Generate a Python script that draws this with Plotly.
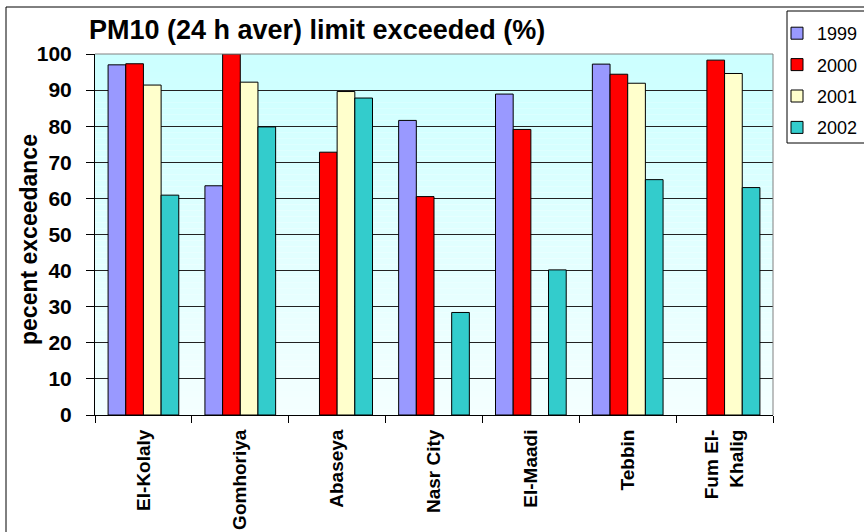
import plotly.graph_objects as go

# Monitoring stations and yearly share of days above the PM10 24 h limit
stations = ["El-Kolaly", "Gomhoriya", "Abaseya", "Nasr City", "El-Maadi", "Tebbin", "Fum El-<br>Khalig"]
years = ["1999", "2000", "2001", "2002"]
pct_1999 = [97.0, 63.5, None, 81.6, 88.9, 97.2, None]
pct_2000 = [97.3, 100.0, 72.8, 60.5, 79.1, 94.4, 98.3]
pct_2001 = [91.4, 92.2, 89.6, None, None, 91.9, 94.6]
pct_2002 = [60.9, 79.8, 87.8, 28.4, 40.2, 65.2, 63.0]
y_ticks = [0, 10, 20, 30, 40, 50, 60, 70, 80, 90, 100]

series = [pct_1999, pct_2000, pct_2001, pct_2002]
colors = ["#9999FF", "#FF0000", "#FFFFCC", "#33CCCC"]
FONT = "Arial, 'Liberation Sans', sans-serif"

W, H = 864, 532
L, R, T, B = 95, 91, 54, 117
pw, ph = W - L - R, H - T - B


def px_x(x):
    return (x - L) / pw


def px_y(y):
    return (H - B - y) / ph


fig = go.Figure()
for name, vals, col in zip(years, series, colors):
    fig.add_trace(go.Bar(
        x=stations, y=vals, name=name, legendgroup=name,
        marker=dict(color=col, line=dict(color="black", width=1)),
    ))

shapes = []
# vertical cyan-to-white fill of the plotting area
n = 60
for i in range(n):
    t = i / (n - 1)
    r = int(round(204 + (244 - 204) * t))
    shapes.append(dict(
        type="rect", xref="paper", yref="paper", layer="below",
        x0=0, x1=1, y0=1 - (i + 1) / n, y1=1 - i / n,
        fillcolor=f"rgb({r},255,255)", line=dict(width=0),
    ))
# grey frame on top and right of the plotting area
shapes.append(dict(type="line", xref="paper", yref="paper", x0=0, x1=1, y0=1, y1=1,
                   line=dict(color="#808080", width=1), layer="above"))
shapes.append(dict(type="line", xref="paper", yref="paper", x0=1, x1=1, y0=0, y1=1,
                   line=dict(color="#808080", width=1), layer="above"))
# outer chart border
shapes.append(dict(type="rect", xref="paper", yref="paper",
                   x0=px_x(6), x1=px_x(875), y0=px_y(545), y1=px_y(7),
                   line=dict(color="black", width=1), fillcolor="rgba(0,0,0,0)"))
# legend frame
shapes.append(dict(type="rect", xref="paper", yref="paper",
                   x0=px_x(787), x1=px_x(880), y0=px_y(143), y1=px_y(11),
                   line=dict(color="black", width=1), fillcolor="rgba(0,0,0,0)"))

fig.update_layout(
    width=W, height=H,
    margin=dict(l=L, r=R, t=T, b=B, autoexpand=False),
    paper_bgcolor="white", plot_bgcolor="rgba(0,0,0,0)",
    barmode="group", bargap=0.27, bargroupgap=0,
    font=dict(family=FONT, color="black"),
    title=dict(
        text="<b>PM10 (24 h aver) limit exceeded (%)</b>",
        font=dict(size=27, family=FONT, color="black"),
        x=89 / W, xanchor="left", xref="container",
        y=1 - 30 / H, yanchor="middle", yref="container",
    ),
    legend=dict(
        x=px_x(777), y=px_y(15), xanchor="left", yanchor="top",
        xref="paper", yref="paper",
        font=dict(size=18, family=FONT, color="black"),
        bgcolor="rgba(0,0,0,0)", borderwidth=0,
        traceorder="grouped", tracegroupgap=5,
    ),
    annotations=[dict(
        text="<b>pecent exceedance</b>", textangle=-90,
        xref="paper", yref="paper", x=px_x(29), y=px_y(240),
        xanchor="center", yanchor="middle", showarrow=False,
        font=dict(size=23, family=FONT, color="black"),
    )],
    shapes=shapes,
    showlegend=True,
)

fig.update_xaxes(
    type="category", showline=True, linecolor="black", linewidth=1,
    ticks="outside", tickson="boundaries", ticklen=7, tickcolor="black",
    tickangle=-90, tickfont=dict(size=19, family=FONT, color="black"),
    ticklabelstandoff=6,
    tickvals=stations, ticktext=[f"<b>{s}</b>" for s in stations],
    showgrid=False, automargin=False,
)
fig.update_yaxes(
    range=[0, 100], tickvals=y_ticks, ticktext=[f"<b>{v}</b>" for v in y_ticks],
    showline=True, linecolor="black", linewidth=1,
    ticks="outside", ticklen=8, tickcolor="black",
    tickfont=dict(size=21, family=FONT, color="black"),
    ticklabelstandoff=10,
    showgrid=True, gridcolor="#222222", gridwidth=1,
    zeroline=False, automargin=False,
)

fig.write_html("out.html")
